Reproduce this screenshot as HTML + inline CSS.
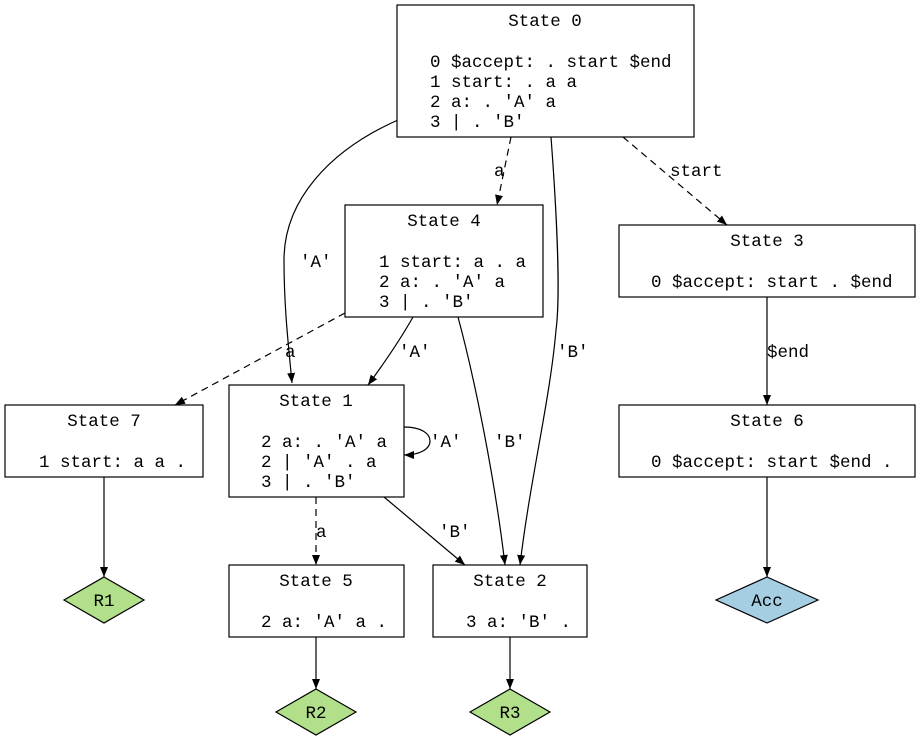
<!DOCTYPE html>
<html><head><meta charset="utf-8"><style>
html,body{margin:0;padding:0;background:#fff}
svg{display:block}
text{font-family:"Liberation Mono",monospace;font-size:17.5px;fill:#000}
.n{fill:#fff;stroke:#000;stroke-width:1.2}
.e{fill:none;stroke:#000;stroke-width:1.2}
.d{stroke-dasharray:7,5}
</style></head><body>
<svg width="921" height="740" viewBox="0 0 921 740" xmlns="http://www.w3.org/2000/svg">
<defs><marker id="a" markerWidth="10" markerHeight="8" refX="10" refY="4" orient="auto" markerUnits="userSpaceOnUse"><path d="M0,0 L10,4 L0,8 Z" fill="#000"/></marker></defs>

<!-- edges -->
<path class="e" marker-end="url(#a)" d="M398,120 C330,150 284,200 284,260 C284,310 289,350 292,383"/>
<text x="300" y="267">'A'</text>
<path class="e d" marker-end="url(#a)" d="M511,137 L497,205"/>
<text x="494" y="176">a</text>
<path class="e" marker-end="url(#a)" d="M551,137 C558,230 560,300 556,330 C550,400 530,480 520,565"/>
<text x="557" y="357">'B'</text>
<path class="e d" marker-end="url(#a)" d="M623,137 L727,225"/>
<text x="670" y="176">start</text>
<path class="e d" marker-end="url(#a)" d="M345,313 L175,405"/>
<text x="285" y="357">a</text>
<path class="e" marker-end="url(#a)" d="M413,317 C400,340 385,362 368,385"/>
<text x="399" y="357">'A'</text>
<path class="e" marker-end="url(#a)" d="M458,317 C475,380 495,480 505,565"/>
<text x="494" y="447">'B'</text>
<path class="e" marker-end="url(#a)" d="M404,427 C422,427 430,434 430,441 C430,449 420,455 404,455"/>
<text x="430" y="447">'A'</text>
<path class="e d" marker-end="url(#a)" d="M316,497 L316,565"/>
<text x="316" y="537">a</text>
<path class="e" marker-end="url(#a)" d="M384,497 L465,565"/>
<text x="439" y="537">'B'</text>
<path class="e" marker-end="url(#a)" d="M767,297 L767,405"/>
<text x="767" y="357">$end</text>
<path class="e" marker-end="url(#a)" d="M104,477 L104,577"/>
<path class="e" marker-end="url(#a)" d="M316,637 L316,689"/>
<path class="e" marker-end="url(#a)" d="M510,637 L510,689"/>
<path class="e" marker-end="url(#a)" d="M767,477 L767,577"/>

<!-- State 0 -->
<rect class="n" x="397" y="5" width="297" height="132"/>
<text x="545" y="26" text-anchor="middle">State 0</text>
<text x="430" y="67">0 $accept: . start $end</text>
<text x="430" y="87">1 start: . a a</text>
<text x="430" y="107">2 a: . 'A' a</text>
<text x="430" y="127">3  | . 'B'</text>

<!-- State 4 -->
<rect class="n" x="345" y="205" width="198" height="112"/>
<text x="444" y="226" text-anchor="middle">State 4</text>
<text x="379" y="267">1 start: a . a</text>
<text x="379" y="287">2 a: . 'A' a</text>
<text x="379" y="307">3  | . 'B'</text>

<!-- State 3 -->
<rect class="n" x="619" y="225" width="296" height="72"/>
<text x="767" y="246" text-anchor="middle">State 3</text>
<text x="651" y="287">0 $accept: start . $end</text>

<!-- State 7 -->
<rect class="n" x="5" y="405" width="198" height="72"/>
<text x="104" y="426" text-anchor="middle">State 7</text>
<text x="39" y="467">1 start: a a .</text>

<!-- State 1 -->
<rect class="n" x="229" y="385" width="175" height="112"/>
<text x="316" y="406" text-anchor="middle">State 1</text>
<text x="261" y="447">2 a: . 'A' a</text>
<text x="261" y="467">2  | 'A' . a</text>
<text x="261" y="487">3  | . 'B'</text>

<!-- State 6 -->
<rect class="n" x="619" y="405" width="296" height="72"/>
<text x="767" y="426" text-anchor="middle">State 6</text>
<text x="651" y="467">0 $accept: start $end .</text>

<!-- State 5 -->
<rect class="n" x="229" y="565" width="175" height="72"/>
<text x="316" y="586" text-anchor="middle">State 5</text>
<text x="261" y="627">2 a: 'A' a .</text>

<!-- State 2 -->
<rect class="n" x="433" y="565" width="154" height="72"/>
<text x="510" y="586" text-anchor="middle">State 2</text>
<text x="466" y="627">3 a: 'B' .</text>

<!-- diamonds -->
<polygon points="104,577 144,600 104,623 64,600" fill="#b2df8a" stroke="#000" stroke-width="1.2"/>
<text x="104" y="606" text-anchor="middle">R1</text>
<polygon points="316,689 356,712 316,735 276,712" fill="#b2df8a" stroke="#000" stroke-width="1.2"/>
<text x="316" y="718" text-anchor="middle">R2</text>
<polygon points="510,689 550,712 510,735 470,712" fill="#b2df8a" stroke="#000" stroke-width="1.2"/>
<text x="510" y="718" text-anchor="middle">R3</text>
<polygon points="767,577 818,600 767,623 716,600" fill="#a6cee3" stroke="#000" stroke-width="1.2"/>
<text x="767" y="606" text-anchor="middle">Acc</text>
</svg>
</body></html>
